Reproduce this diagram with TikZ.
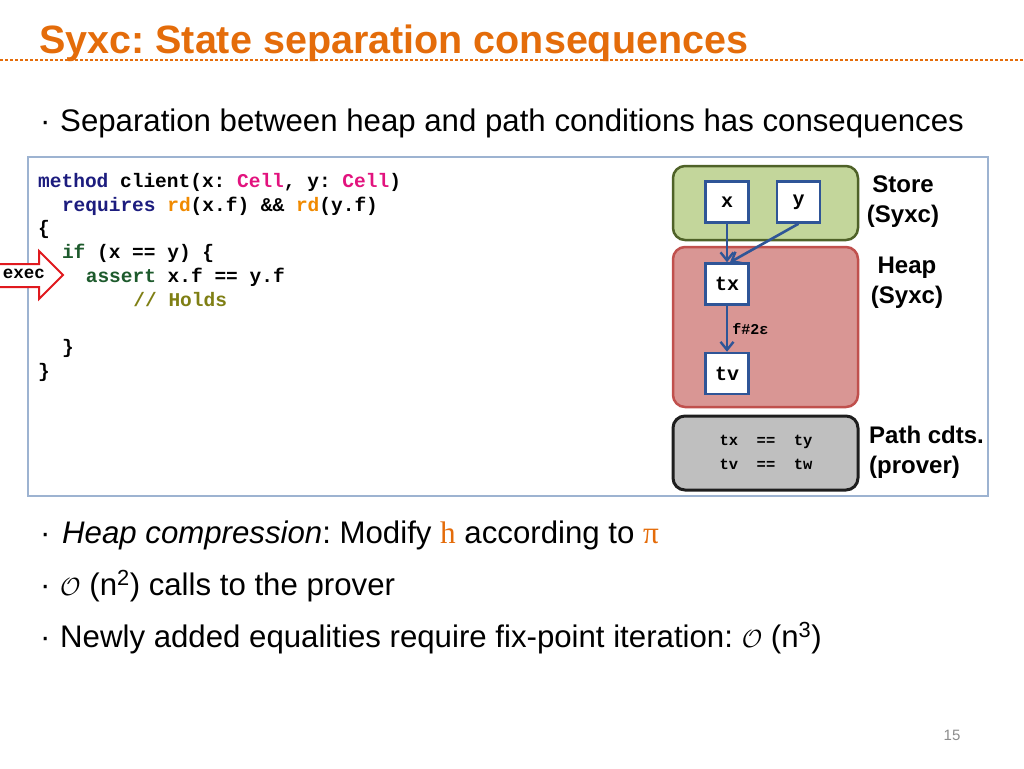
\documentclass[tikz,border=0pt]{standalone}
\usepackage{fontspec}
\setmainfont{Liberation Sans}
\newfontfamily\codefont{Liberation Mono}
\newfontfamily\seriffont{Liberation Serif}
\usetikzlibrary{arrows.meta}
\definecolor{titleorange}{HTML}{E46C0A}
\definecolor{frameblue}{HTML}{9DB3D1}
\definecolor{kwnavy}{HTML}{1C1C7E}
\definecolor{cellpink}{HTML}{E2137E}
\definecolor{rdorange}{HTML}{F08A00}
\definecolor{kwgreen}{HTML}{1D5A2C}
\definecolor{holdolive}{HTML}{7F7F14}
\definecolor{execred}{HTML}{E0191E}
\definecolor{storegreen}{HTML}{C3D69B}
\definecolor{storeedge}{HTML}{4F6228}
\definecolor{heaprose}{HTML}{D99694}
\definecolor{heapedge}{HTML}{C0504D}
\definecolor{pathgray}{HTML}{BFBFBF}
\definecolor{pathedge}{HTML}{1E1E1E}
\definecolor{varblue}{HTML}{2F5597}
\definecolor{numgray}{HTML}{8C8C8C}

\newcommand\cf{\codefont\bfseries\fontsize{19.5}{23.7}\selectfont}

\tikzset{
  codeline/.style={anchor=base west, inner sep=0pt, font=\cf},
  bullet/.style={anchor=base west, inner sep=0pt, font=\fontsize{31.2}{36}\selectfont},
  varbox/.style={draw=varblue, line width=2.5pt, fill=white, minimum width=43pt,
    minimum height=41pt, inner sep=0pt, font=\codefont\bfseries\fontsize{20}{24}\selectfont},
  region/.style={rounded corners=12pt, line width=2.5pt},
  sidelabel/.style={font=\bfseries\fontsize{24}{30}\selectfont, inner sep=0pt},
  ptr/.style={draw=varblue, line width=2.6pt, -{Straight Barb[length=8pt, width=13pt, line width=2.4pt]}}
}

\begin{document}
\frenchspacing
\begin{tikzpicture}[x=1pt, y=-1pt]
\useasboundingbox (0,0) rectangle (1024,768);

% Title and rule
\node[anchor=base west, inner sep=0pt, text=titleorange, font=\bfseries\fontsize{39.5}{44}\selectfont] (title) at (39, 54) {Syxc: State separation consequences};
\draw[titleorange, line width=1.2pt, dash pattern=on 3pt off 2pt] (0, 60) -- (1024, 60);

% First bullet
\node[bullet] (b1dot) at (40, 131) {\textperiodcentered};
\node[bullet] (b1) at (60, 131) {Separation between heap and path conditions has consequences};

% Code frame
\draw[frameblue, line width=1.2pt] (28, 157) rectangle (988, 496);

% Code lines
\node[codeline] (c1) at (38, 187.5) {\textcolor{kwnavy}{method} client(x: \textcolor{cellpink}{Cell}, y: \textcolor{cellpink}{Cell})};
\node[codeline] (c2) at (61.8, 211.2) {\textcolor{kwnavy}{requires} \textcolor{rdorange}{rd}(x.f) \&\& \textcolor{rdorange}{rd}(y.f)};
\node[codeline] (c3) at (38, 234.9) {\{};
\node[codeline] (c4) at (61.8, 258.6) {\textcolor{kwgreen}{if} (x == y) \{};
\node[codeline] (c5) at (85.6, 282.3) {\textcolor{kwgreen}{assert} x.f == y.f};
\node[codeline, text=holdolive] (c6) at (133.2, 306) {// Holds};
\node[codeline] (c8) at (61.8, 353.4) {\}};
\node[codeline] (c9) at (38, 377.1) {\}};

% exec arrow
\draw[execred, line width=2pt, fill=white, line join=miter]
  (-3, 264) -- (39, 264) -- (39, 251) -- (63, 275) -- (39, 299) -- (39, 287) -- (-3, 287) -- cycle;
\node[font=\codefont\bfseries\fontsize{17.5}{20}\selectfont, inner sep=0pt] (exec) at (24, 274) {exec};

% Store region
\draw[region, draw=storeedge, fill=storegreen] (673, 166) rectangle (858, 240);
\node[varbox] (x) at (727, 202) {x};
\node[varbox] (y) at (798.5, 202) {y};
\node[sidelabel, align=center] (storelbl) at (903, 202) {Store\\(Syxc)};

% Heap region
\draw[region, draw=heapedge, fill=heaprose] (673, 247) rectangle (858, 407);
\node[varbox] (tx) at (727, 284) {tx};
\node[varbox] (tv) at (727, 373.5) {tv};
\node[sidelabel, align=center] (heaplbl) at (907, 283) {Heap\\(Syxc)};

% Pointers
\draw[ptr] (x.south) -- (tx.north);
\draw[ptr] (y.south) -- ([xshift=3pt]tx.north);
\draw[ptr] (tx.south) -- node[right, font=\codefont\bfseries\fontsize{15}{18}\selectfont, inner sep=4pt] (flbl) {f\#2ε} (tv.north);

% Path conditions
\draw[region, draw=pathedge, line width=3pt, fill=pathgray] (673, 416) rectangle (858, 490);
\node[font=\codefont\bfseries\fontsize{15.5}{24}\selectfont, align=center, inner sep=0pt] (pc) at (766, 452) {tx\ \ ==\ \ ty\\tv\ \ ==\ \ tw};
\node[sidelabel, align=left, anchor=west] (pathlbl) at (869, 452) {Path cdts.\\(prover)};

% Lower bullets
\node[bullet] (b2dot) at (40, 543) {\textperiodcentered};
\node[bullet] (b2) at (62, 543) {\textit{Heap compression}: Modify \textcolor{titleorange}{\seriffont h} according to \textcolor{titleorange}{\seriffont π}};
\node[bullet] (b3dot) at (40, 595) {\textperiodcentered};
\node[bullet] (b3) at (60, 595) {$\mathcal{O}$ (n\textsuperscript{2}) calls to the prover};
\node[bullet] (b4dot) at (40, 647) {\textperiodcentered};
\node[bullet] (b4) at (60, 647) {Newly added equalities require fix-point iteration: $\mathcal{O}$ (n\textsuperscript{3})};

% Slide number
\node[text=numgray, font=\fontsize{15}{18}\selectfont, inner sep=0pt] (pagenum) at (952, 735) {15};

\end{tikzpicture}
\end{document}
